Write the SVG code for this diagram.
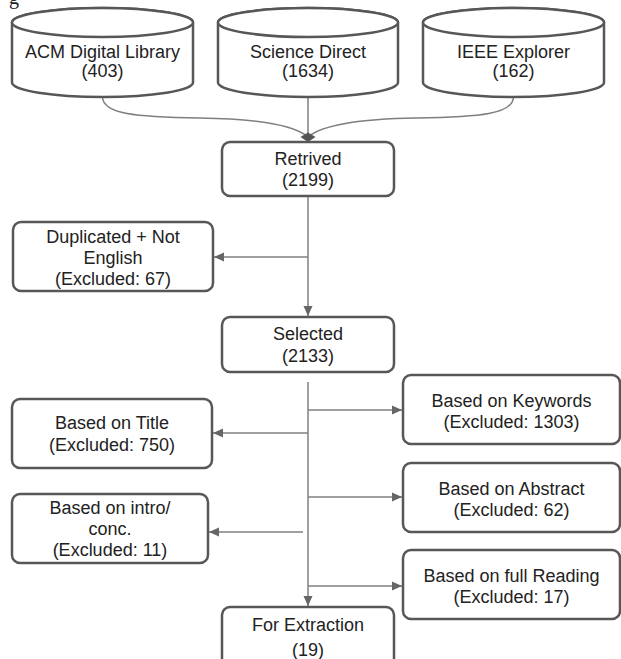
<svg xmlns="http://www.w3.org/2000/svg" width="621" height="659" viewBox="0 0 621 659">
<style>
.box{fill:#fff;stroke:#575757;stroke-width:2.5}
.t{font-family:"Liberation Sans",Arial,sans-serif;font-size:18px;fill:#222;text-anchor:middle}
.c{fill:none;stroke:#7f7f7f;stroke-width:1.5}
.frag{font-family:"Liberation Serif","Times New Roman",serif;font-size:20px;fill:#222}
</style>
<defs>
<marker id="ah" viewBox="0 0 10 10" refX="10" refY="5" markerWidth="10" markerHeight="10" markerUnits="userSpaceOnUse" orient="auto">
<path d="M0,0.5 L10,5 L0,9.5 Z" fill="#666"/>
</marker>
</defs>
<rect width="621" height="659" fill="#fff"/>
<text class="frag" x="9" y="4">g</text>

<g id="connectors">
<path class="c" d="M102.5,97 C103,114 135,117 200,118 C262,119 295,126 308,137"/>
<path class="c" d="M308,97 L308,137"/>
<path class="c" d="M513.5,97 C513,114 481,117 416,118 C354,119 321,126 308,137"/>
<path d="M300.5,137 L308,132.5 L315.5,137 L308,142 Z" fill="#555"/>
<path class="c" d="M308,196 L308,316" marker-end="url(#ah)"/>
<path class="c" d="M308,257 L214,257" marker-end="url(#ah)"/>
<path class="c" d="M308,382 L308,606" marker-end="url(#ah)"/>
<path class="c" d="M308,410 L402,410" marker-end="url(#ah)"/>
<path class="c" d="M308,433 L213,433" marker-end="url(#ah)"/>
<path class="c" d="M308,497 L402,497" marker-end="url(#ah)"/>
<path class="c" d="M303,532 L209,532" marker-end="url(#ah)"/>
<path class="c" d="M308,586 L402,586" marker-end="url(#ah)"/>
</g>

<g id="acm">
<path class="box" d="M12,22.5 L12,82.5 A90.5,14.5 0 0 0 193,82.5 L193,22.5 A90.5,14.5 0 0 0 12,22.5 Z"/>
<ellipse class="box" cx="102.5" cy="22.5" rx="90.5" ry="14.5"/>
<text class="t" x="102.5" y="58">ACM Digital Library</text>
<text class="t" x="102.5" y="77">(403)</text>
</g>
<g id="sciencedirect">
<path class="box" d="M218,22.5 L218,82.5 A90,14.5 0 0 0 398,82.5 L398,22.5 A90,14.5 0 0 0 218,22.5 Z"/>
<ellipse class="box" cx="308" cy="22.5" rx="90" ry="14.5"/>
<text class="t" x="308" y="58">Science Direct</text>
<text class="t" x="308" y="77">(1634)</text>
</g>
<g id="ieee">
<path class="box" d="M423,22.5 L423,82.5 A90.5,14.5 0 0 0 604,82.5 L604,22.5 A90.5,14.5 0 0 0 423,22.5 Z"/>
<ellipse class="box" cx="513.5" cy="22.5" rx="90.5" ry="14.5"/>
<text class="t" x="513.5" y="58">IEEE Explorer</text>
<text class="t" x="513.5" y="77">(162)</text>
</g>

<g id="retrived">
<rect class="box" x="222" y="142" width="172" height="54" rx="8"/>
<text class="t" x="308" y="165">Retrived</text>
<text class="t" x="308" y="186">(2199)</text>
</g>
<g id="duplicated">
<rect class="box" x="13" y="222" width="200" height="69" rx="8"/>
<text class="t" x="113" y="243">Duplicated + Not</text>
<text class="t" x="113" y="264">English</text>
<text class="t" x="113" y="285">(Excluded: 67)</text>
</g>
<g id="selected">
<rect class="box" x="222" y="317" width="172" height="55" rx="8"/>
<text class="t" x="308" y="340">Selected</text>
<text class="t" x="308" y="362">(2133)</text>
</g>
<g id="keywords">
<rect class="box" x="403" y="375" width="217" height="69" rx="8"/>
<text class="t" x="511.5" y="407">Based on Keywords</text>
<text class="t" x="511.5" y="428">(Excluded: 1303)</text>
</g>
<g id="title">
<rect class="box" x="12" y="399" width="200" height="69" rx="8"/>
<text class="t" x="112" y="429">Based on Title</text>
<text class="t" x="112" y="451">(Excluded: 750)</text>
</g>
<g id="abstract">
<rect class="box" x="403" y="463" width="217" height="69" rx="8"/>
<text class="t" x="511.5" y="495">Based on Abstract</text>
<text class="t" x="511.5" y="516">(Excluded: 62)</text>
</g>
<g id="intro">
<rect class="box" x="12" y="494" width="196" height="69" rx="8"/>
<text class="t" x="110" y="514">Based on intro/</text>
<text class="t" x="110" y="535">conc.</text>
<text class="t" x="110" y="556">(Excluded: 11)</text>
</g>
<g id="fullreading">
<rect class="box" x="403" y="550" width="217" height="69" rx="8"/>
<text class="t" x="511.5" y="582">Based on full Reading</text>
<text class="t" x="511.5" y="603">(Excluded: 17)</text>
</g>
<g id="extraction">
<rect class="box" x="222" y="607" width="172" height="62" rx="8"/>
<text class="t" x="308" y="631">For Extraction</text>
<text class="t" x="308" y="656">(19)</text>
</g>
</svg>
